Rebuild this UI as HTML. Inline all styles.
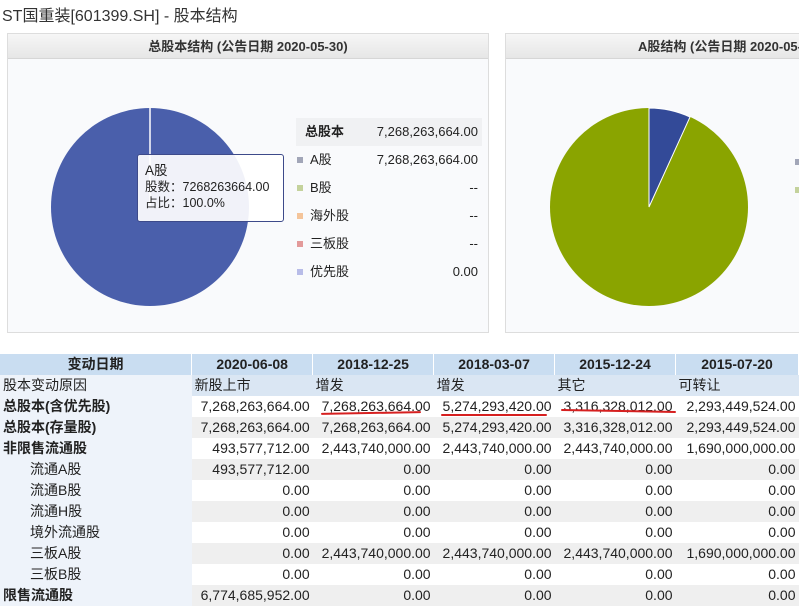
<!DOCTYPE html>
<html><head><meta charset="utf-8"><style>
*{margin:0;padding:0;box-sizing:border-box}
body{width:799px;height:606px;overflow:hidden;background:#fff;font-family:"Liberation Sans","Noto Sans CJK SC",sans-serif;position:relative;color:#222}
.a{position:absolute}
.panel{position:absolute;border:1px solid #ddd;background:#f9fafc;overflow:hidden}
.ptitle{position:absolute;left:0;right:0;top:0;height:25px;background:linear-gradient(#f6f6f6,#e6e6e6);border-bottom:1px solid #d6d6d6;font-size:13px;font-weight:bold;text-align:center;line-height:25px;color:#333;white-space:nowrap}
.lg{position:absolute;left:296px;width:186px;height:28px;font-size:13px;line-height:28px}
.lg .sw{position:absolute;left:1px;top:11px;width:6px;height:6px}
.lg .t{position:absolute;left:14px}
.lg .v{position:absolute;right:4px}
table{position:absolute;left:0;top:354px;border-collapse:collapse;font-size:14px;table-layout:fixed}
td{height:21px;padding:0 3px;white-space:nowrap;overflow:hidden;line-height:21px}
td.l{background:#eef3fa;text-align:left}
td.n{text-align:right}
tr.h td{background:#c9ddf1;font-weight:bold;text-align:center;border-right:1px solid #fff}
tr.r td{background:#dae6f3}
tr.r td.l{background:#eef3fa}
tr.z td.n{background:#efefef}
.b{font-weight:bold}
.i{padding-left:30px !important}
.ul{position:absolute;height:2px;background:#d62020;border-radius:1px}
</style></head><body>
<div class="a" style="left:2px;top:2px;font-size:16px;color:#333">ST国重装[601399.SH] - 股本结构</div>

<div class="panel" style="left:7px;top:33px;width:482px;height:300px">
<div class="ptitle">总股本结构 (公告日期 2020-05-30)</div>
</div>
<svg class="a" style="left:0;top:0" width="799" height="340">
<circle cx="150" cy="207" r="99" fill="#4a5fab"/>
<line x1="150" y1="108" x2="150" y2="207" stroke="#fff" stroke-width="1.5"/>
</svg>
<div class="a" style="left:137px;top:154px;width:147px;height:68px;background:rgba(255,255,255,0.92);border:1px solid #3d4a8a;border-radius:3px;font-size:12.5px;line-height:16px;padding:8px 0 0 7px;color:#222">
<div style="font-size:13.5px">A股</div><div>股数：7268263664.00</div><div>占比：100.0%</div></div>

<div class="lg" style="top:118px;background:#f0f1f3;font-weight:bold"><span class="t" style="left:9px">总股本</span><span class="v" style="font-weight:normal">7,268,263,664.00</span></div>
<div class="lg" style="top:146px"><span class="sw" style="background:#a2a6b8"></span><span class="t">A股</span><span class="v">7,268,263,664.00</span></div>
<div class="lg" style="top:174px"><span class="sw" style="background:#c4d29c"></span><span class="t">B股</span><span class="v">--</span></div>
<div class="lg" style="top:202px"><span class="sw" style="background:#f4c49a"></span><span class="t">海外股</span><span class="v">--</span></div>
<div class="lg" style="top:230px"><span class="sw" style="background:#e39a9a"></span><span class="t">三板股</span><span class="v">--</span></div>
<div class="lg" style="top:258px"><span class="sw" style="background:#b8bce8"></span><span class="t">优先股</span><span class="v">0.00</span></div>

<div class="panel" style="left:505px;top:33px;width:300px;height:300px">
<div class="ptitle" style="text-align:left;padding-left:132px;width:600px">A股结构 (公告日期 2020-05-30)</div>
</div>
<svg class="a" style="left:0;top:0" width="799" height="340">
<circle cx="649" cy="207" r="99" fill="#8aa400"/>
<path d="M649,207 L649,108 A99,99 0 0 1 690,117 Z" fill="#334a98" stroke="#fff" stroke-width="1"/>
<rect x="795" y="159" width="6" height="6" fill="#a2a6b8"/>
<rect x="795" y="187" width="6" height="6" fill="#c4d29c"/>
</svg>

<table>
<colgroup><col style="width:192px"><col style="width:121px"><col style="width:121px"><col style="width:121px"><col style="width:121px"><col style="width:123px"></colgroup>
<tr class="h"><td>变动日期</td><td>2020-06-08</td><td>2018-12-25</td><td>2018-03-07</td><td>2015-12-24</td><td>2015-07-20</td></tr>
<tr class="r"><td class="l">股本变动原因</td><td>新股上市</td><td>增发</td><td>增发</td><td>其它</td><td>可转让</td></tr>
<tr><td class="l b">总股本(含优先股)</td><td class="n">7,268,263,664.00</td><td class="n">7,268,263,664.00</td><td class="n">5,274,293,420.00</td><td class="n">3,316,328,012.00</td><td class="n">2,293,449,524.00</td></tr>
<tr class="z"><td class="l b">总股本(存量股)</td><td class="n">7,268,263,664.00</td><td class="n">7,268,263,664.00</td><td class="n">5,274,293,420.00</td><td class="n">3,316,328,012.00</td><td class="n">2,293,449,524.00</td></tr>
<tr><td class="l b">非限售流通股</td><td class="n">493,577,712.00</td><td class="n">2,443,740,000.00</td><td class="n">2,443,740,000.00</td><td class="n">2,443,740,000.00</td><td class="n">1,690,000,000.00</td></tr>
<tr class="z"><td class="l i">流通A股</td><td class="n">493,577,712.00</td><td class="n">0.00</td><td class="n">0.00</td><td class="n">0.00</td><td class="n">0.00</td></tr>
<tr><td class="l i">流通B股</td><td class="n">0.00</td><td class="n">0.00</td><td class="n">0.00</td><td class="n">0.00</td><td class="n">0.00</td></tr>
<tr class="z"><td class="l i">流通H股</td><td class="n">0.00</td><td class="n">0.00</td><td class="n">0.00</td><td class="n">0.00</td><td class="n">0.00</td></tr>
<tr><td class="l i">境外流通股</td><td class="n">0.00</td><td class="n">0.00</td><td class="n">0.00</td><td class="n">0.00</td><td class="n">0.00</td></tr>
<tr class="z"><td class="l i">三板A股</td><td class="n">0.00</td><td class="n">2,443,740,000.00</td><td class="n">2,443,740,000.00</td><td class="n">2,443,740,000.00</td><td class="n">1,690,000,000.00</td></tr>
<tr><td class="l i">三板B股</td><td class="n">0.00</td><td class="n">0.00</td><td class="n">0.00</td><td class="n">0.00</td><td class="n">0.00</td></tr>
<tr class="z"><td class="l b">限售流通股</td><td class="n">6,774,685,952.00</td><td class="n">0.00</td><td class="n">0.00</td><td class="n">0.00</td><td class="n">0.00</td></tr>
</table>
<div class="ul" style="left:321px;top:412px;width:100px;transform:rotate(-1deg)"></div>
<div class="ul" style="left:441px;top:414px;width:106px"></div>
<div class="ul" style="left:561px;top:410px;width:115px;transform:rotate(1deg)"></div>
</body></html>
